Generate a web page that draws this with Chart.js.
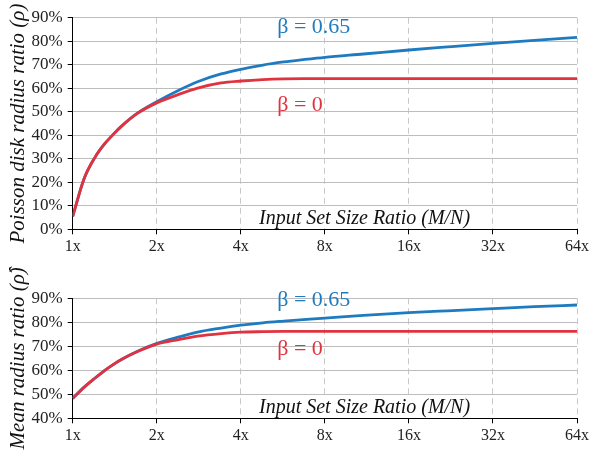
<!DOCTYPE html>
<html>
<head>
<meta charset="utf-8">
<script src="https://cdn.jsdelivr.net/npm/chart.js@4/dist/chart.umd.min.js"></script>
<style>
  body { margin: 0; background: #fff; }
  .wrap { position: absolute; left: 0; width: 592px; }
</style>
</head>
<body>
<div class="wrap" style="top:0px;height:252px"><canvas id="top" width="592" height="252"></canvas></div>
<div class="wrap" style="top:262px;height:195px"><canvas id="bottom" width="592" height="195"></canvas></div>
<script>
// M/N ratios sampled along each curve
const ratios = [1, 1.1, 1.2, 1.3, 1.4, 1.5, 1.7, 2, 2.4, 2.8, 3.4, 4, 4.8, 5.7, 6.7, 8, 11, 16, 22, 32, 45, 64];
const xTicks = [1, 2, 4, 8, 16, 32, 64];

// Poisson disk radius ratio (%)
const topBlue = [5.5, 21.7, 30.5, 36.3, 40.5, 44, 49.3, 54.3, 59.2, 62.8, 66.1, 68.1, 69.9, 71.2, 72.2, 73.2, 74.6, 76.3, 77.6, 79.1, 80.4, 81.7];
const topRed  = [5.5, 21.7, 30.5, 36.3, 40.5, 44, 49.2, 53.8, 57.4, 60.1, 62.3, 63.1, 63.7, 64, 64.1, 64.1, 64.1, 64.1, 64.1, 64.1, 64.1, 64.1];

// Mean radius ratio (%)
const botBlue = [48.3, 53.0, 56.7, 59.9, 62.5, 64.6, 67.8, 71.2, 73.9, 75.9, 77.6, 78.8, 79.8, 80.5, 81.1, 81.7, 82.9, 84, 84.8, 85.7, 86.5, 87.2];
const botRed  = [48.3, 53.0, 56.7, 59.9, 62.5, 64.6, 67.7, 70.9, 72.8, 74.2, 75.3, 75.9, 76.1, 76.2, 76.2, 76.2, 76.2, 76.2, 76.2, 76.2, 76.2, 76.2];

const BLUE = '#1f7bbf';
const RED = '#e1333f';
const SERIF = '"Liberation Serif", "DejaVu Serif", serif';

const pts = (vals) => ratios.map((r, i) => ({x: r, y: vals[i]}));

// text drawn at scale coordinates
const notes = {
  id: 'notes',
  beforeDatasetsDraw(chart, args, opts) {
    const {ctx, scales: {x, y}} = chart;
    const t = opts.title;
    ctx.save();
    ctx.font = 'italic 20px ' + SERIF;
    const w = ctx.measureText(t.text).width;
    const cx = x.getPixelForValue(t.x), cy = y.getPixelForValue(t.y);
    ctx.fillStyle = '#fff';
    ctx.fillRect(cx - w / 2 - 4, cy - 11, w + 8, 20);
    ctx.restore();
  },
  afterDatasetsDraw(chart, args, opts) {
    const {ctx, scales: {x, y}} = chart;
    ctx.save();
    ctx.textBaseline = 'middle';
    opts.labels.forEach(l => {
      ctx.font = '22px ' + SERIF;
      ctx.fillStyle = l.color;
      ctx.textAlign = 'left';
      ctx.fillText(l.text, x.getPixelForValue(l.x), y.getPixelForValue(l.y));
    });
    const t = opts.title;
    ctx.font = 'italic 20px ' + SERIF;
    ctx.fillStyle = '#111';
    ctx.textAlign = 'center';
    ctx.fillText(t.text, x.getPixelForValue(t.x), y.getPixelForValue(t.y));
    ctx.restore();
  }
};

function makeChart(id, red, blue, yMin, yMax, yTitle, xAxisH, padTop, labels, title) {
  return new Chart(document.getElementById(id), {
    type: 'line',
    data: {
      datasets: [
        { data: pts(red), borderColor: RED, borderWidth: 2.8, pointRadius: 0, cubicInterpolationMode: 'monotone' },
        { data: pts(blue), borderColor: BLUE, borderWidth: 2.8, pointRadius: 0, cubicInterpolationMode: 'monotone' }
      ]
    },
    options: {
      responsive: false,
      animation: false,
      layout: { padding: { left: 0, right: 13, top: padTop, bottom: 0 } },
      plugins: {
        legend: { display: false },
        tooltip: { enabled: false },
        notes: { labels: labels, title: title }
      },
      scales: {
        x: {
          type: 'logarithmic',
          min: 1,
          max: 64,
          afterBuildTicks: (s) => { s.ticks = xTicks.map(v => ({value: v})); },
          afterFit: (s) => { s.height = xAxisH; },
          grid: { color: '#c8c8c8', lineWidth: 1, tickColor: '#000', tickLength: 5, tickBorderDash: [] },
          border: { color: '#000', width: 1, dash: [6, 4] },
          ticks: {
            autoSkip: false,
            maxRotation: 0,
            padding: 3,
            color: '#222',
            font: { family: SERIF, size: 16 },
            callback: (v) => v + 'x'
          }
        },
        y: {
          min: yMin,
          max: yMax,
          afterFit: (s) => { s.width = 72.7; },
          grid: { color: '#bdbdbd', lineWidth: 1, tickColor: '#000', tickLength: 5 },
          border: { color: '#000', width: 1 },
          ticks: {
            stepSize: 10,
            padding: 5,
            color: '#222',
            font: { family: SERIF, size: 17 },
            callback: (v) => v + '%'
          },
          title: {
            display: true,
            text: yTitle,
            color: '#111',
            padding: { top: 6, bottom: 0 },
            font: { family: SERIF, size: 21, style: 'italic' }
          }
        }
      }
    },
    plugins: [notes]
  });
}

makeChart('top', topRed, topBlue, 0, 90, 'Poisson disk radius ratio (ρ)', 22.7, 17.8,
  [ { text: 'β = 0.65', color: BLUE, x: 5.4, y: 86 },
    { text: 'β = 0', color: RED, x: 5.4, y: 52.6 } ],
  { text: 'Input Set Size Ratio (M/N)', x: 11.1, y: 4.3 });

makeChart('bottom', botRed, botBlue, 40, 90, 'Mean radius ratio (ρ̂)', 38.7, 36.3,
  [ { text: 'β = 0.65', color: BLUE, x: 5.4, y: 89.1 },
    { text: 'β = 0', color: RED, x: 5.4, y: 68.6 } ],
  { text: 'Input Set Size Ratio (M/N)', x: 11.1, y: 44.3 });
</script>
</body>
</html>
